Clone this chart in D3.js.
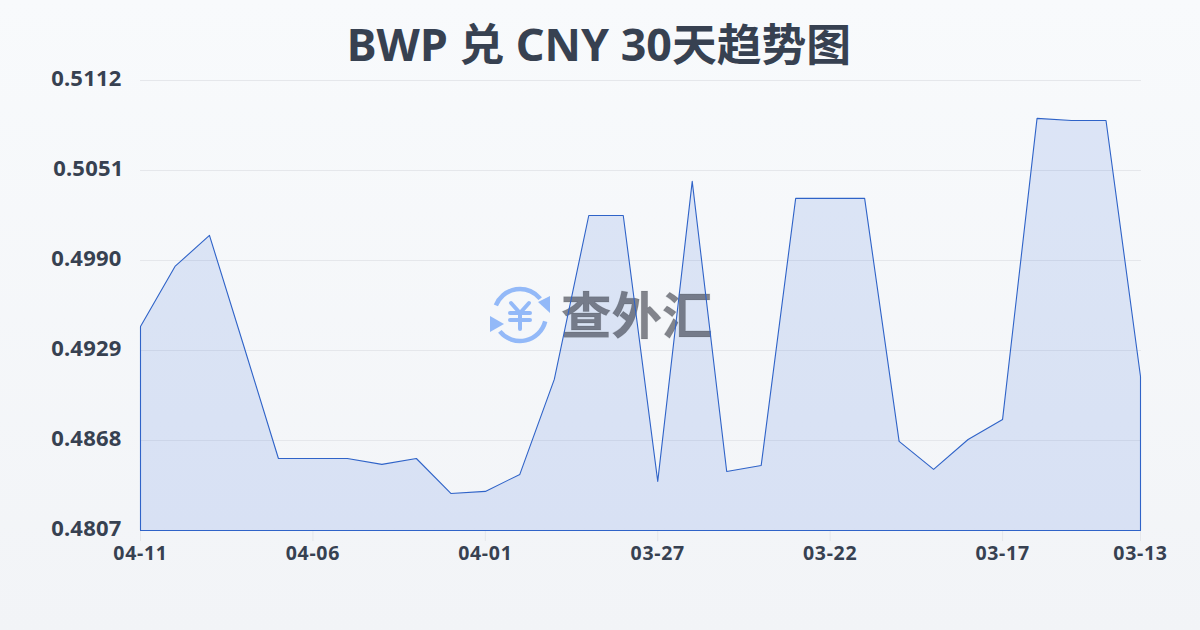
<!DOCTYPE html>
<html><head><meta charset="utf-8">
<script src="https://cdn.jsdelivr.net/npm/d3@7/dist/d3.min.js"></script>
<style>html,body{margin:0;padding:0;width:1200px;height:630px;overflow:hidden}svg{display:block}text{font-family:"Noto Sans","Noto Sans CJK SC",sans-serif}</style>
</head><body><svg id="c" width="1200" height="630"></svg>
<script>
const titleText = "BWP 兑 CNY 30天趋势图";
const dates = ["04-11","04-10","04-09","04-08","04-07","04-06","04-05","04-04","04-03","04-02","04-01","03-31","03-30","03-29","03-28","03-27","03-26","03-25","03-24","03-23","03-22","03-21","03-20","03-19","03-18","03-17","03-16","03-15","03-14","03-13"];
const rates = [0.49453,0.49860,0.50070,0.49317,0.48558,0.48558,0.48558,0.48518,0.48558,0.48321,0.48335,0.48450,0.49094,0.50205,0.50205,0.48403,0.50436,0.48470,0.48511,0.50321,0.50321,0.50321,0.48674,0.48484,0.48687,0.48823,0.50863,0.50849,0.50849,0.49114];
const yTicks = [0.4807,0.4868,0.4929,0.4990,0.5051,0.5112];
const xTicks = ["04-11","04-06","04-01","03-27","03-22","03-17","03-13"];

const svg = d3.select("#c");
const defs = svg.append("defs");
const bg = defs.append("linearGradient").attr("id","bg").attr("x1",0).attr("y1",0).attr("x2",0).attr("y2",1);
bg.append("stop").attr("offset",0).attr("stop-color","#f8fafc");
bg.append("stop").attr("offset",1).attr("stop-color","#f2f4f7");
svg.append("rect").attr("width",1200).attr("height",630).attr("fill","url(#bg)");

const x = d3.scalePoint().domain(dates).range([140.5,1140.5]);
const y = d3.scaleLinear().domain([0.4807,0.5112]).range([530.5,80.5]);

svg.append("text").attr("x",599).attr("y",61).attr("text-anchor","middle")
  .attr("font-size",44.8).attr("font-weight",700).attr("fill","#374151").text(titleText);

// grid
svg.append("g").selectAll("line").data(yTicks.slice(1)).join("line")
  .attr("x1",140).attr("x2",1141).attr("y1",d=>y(d)).attr("y2",d=>y(d))
  .attr("stroke","#e5e7eb").attr("stroke-width",1);

// y labels
svg.append("g").selectAll("text").data(yTicks).join("text")
  .attr("x",d=>d===0.5051?123.5:121.5).attr("y",d=>y(d)+5).attr("text-anchor","end")
  .attr("font-size",22).attr("font-weight",700).attr("letter-spacing",0.2).attr("fill","#374151")
  .text(d=>d.toFixed(4));

// x axis ticks
svg.append("g").selectAll("line").data(xTicks).join("line")
  .attr("x1",d=>x(d)).attr("x2",d=>x(d)).attr("y1",531).attr("y2",541)
  .attr("stroke","#e5e7eb");
svg.append("g").selectAll("text").data(xTicks).join("text")
  .attr("x",d=>x(d)).attr("y",560).attr("text-anchor","middle")
  .attr("font-size",19.5).attr("font-weight",700).attr("letter-spacing",0.7).attr("fill","#374151").text(d=>d);

// area fill
const pts = dates.map((k,i)=>({k,v:rates[i]}));
const area = d3.area().x(d=>x(d.k)).y0(y(0.4807)).y1(d=>y(d.v));
svg.append("path").datum(pts).attr("d",area).attr("fill","#2a62d8").attr("fill-opacity",0.135);

// watermark
const wm = svg.append("g");
wm.append("text").attr("x",561).attr("y",334).attr("font-size",50.5).attr("font-weight",700)
  .attr("fill","#222631").attr("fill-opacity",0.55).attr("stroke","#222631").attr("stroke-opacity",0.15).attr("stroke-width",0.8).text("查外汇");
const logo = wm.append("g").attr("transform","translate(520,315)").attr("fill","none").attr("stroke","#93b9f8").attr("stroke-linecap","round");
const arc = d3.arc();
logo.append("path").attr("stroke-width",4.5).attr("d",arc({innerRadius:26,outerRadius:26,startAngle:-1.19,endAngle:0.89}));
logo.append("path").attr("stroke-width",4.5).attr("d",arc({innerRadius:26,outerRadius:26,startAngle:1.82,endAngle:4.03}));
logo.append("path").attr("fill","#93b9f8").attr("stroke","none").attr("d","M18,-13 L30,-19 L30,-2 Z");
logo.append("path").attr("fill","#93b9f8").attr("stroke","none").attr("d","M-30,1 L-16,9 L-30,17 Z");
logo.append("path").attr("stroke-width",4).attr("d","M-9,-12 L0,-2 L9,-12 M0,-2 V14 M-10,-2 H10 M-10,5 H10");

// outline
svg.append("path").datum(pts).attr("d",area).attr("fill","none")
  .attr("stroke","#2f63c8").attr("stroke-width",1.1).attr("stroke-linejoin","round");
</script></body></html>
